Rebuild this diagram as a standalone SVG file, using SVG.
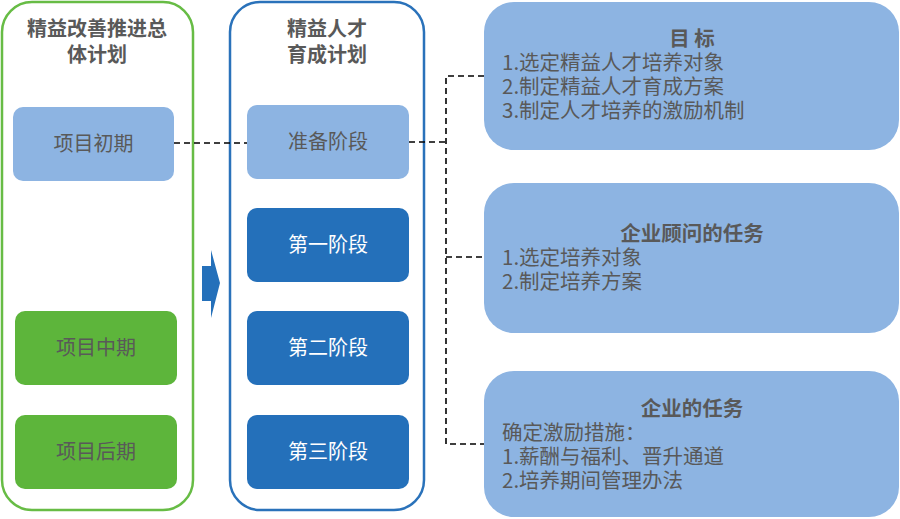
<svg xmlns="http://www.w3.org/2000/svg" width="900" height="519" viewBox="0 0 900 519">
<style>
text{font-family:"Noto Sans CJK SC","Noto Sans",sans-serif;font-size:20px;fill:#595959}
.r{font-size:20.5px}
.b{font-weight:bold}
.w{fill:#ffffff}
.c{text-anchor:middle}
.light{fill:#8DB4E2}
.dark{fill:#2470BA}
.green{fill:#5DB53B}
.dash{fill:none;stroke:#000000;stroke-width:1.6;stroke-dasharray:6 4}
</style>
<rect width="900" height="519" fill="#ffffff"/>
<g id="plan-container">
<rect x="2" y="2" width="191" height="508" rx="30" fill="none" stroke="#67BC45" stroke-width="2.5"/>
<text class="b c" x="97" y="36">精益改善推进总</text>
<text class="b c" x="97" y="62">体计划</text>
</g>
<g id="talent-container">
<rect x="230" y="2" width="194" height="508" rx="30" fill="none" stroke="#2A72BA" stroke-width="2.5"/>
<text class="b c" x="327" y="36">精益人才</text>
<text class="b c" x="327" y="62">育成计划</text>
</g>
<g id="arrow">
<path d="M202 266H211V250L220 283L211 318V301H202Z" fill="#2470BA"/>
</g>
<g id="early">
<rect class="light" x="13" y="107" width="161" height="74" rx="10"/>
<text class="c" x="93.5" y="151">项目初期</text>
</g>
<g id="mid">
<rect class="green" x="15" y="311" width="162" height="74" rx="10"/>
<text class="c" x="96" y="355">项目中期</text>
</g>
<g id="late">
<rect class="green" x="15" y="415" width="162" height="74" rx="10"/>
<text class="c" x="96" y="459">项目后期</text>
</g>
<g id="prep">
<rect class="light" x="247" y="105" width="162" height="74" rx="10"/>
<text class="c" x="328" y="149">准备阶段</text>
</g>
<g id="stage1">
<rect class="dark" x="247" y="208" width="162" height="74" rx="10"/>
<text class="c w" x="328" y="252">第一阶段</text>
</g>
<g id="stage2">
<rect class="dark" x="247" y="311" width="162" height="74" rx="10"/>
<text class="c w" x="328" y="355">第二阶段</text>
</g>
<g id="stage3">
<rect class="dark" x="247" y="415" width="162" height="74" rx="10"/>
<text class="c w" x="328" y="459">第三阶段</text>
</g>
<g id="goal">
<rect class="light" x="484" y="2" width="415" height="148" rx="30"/>
<text class="b c r" x="692" y="46" xml:space="preserve">目 标</text>
<text class="r" x="502" y="70">1.选定精益人才培养对象</text>
<text class="r" x="502" y="94">2.制定精益人才育成方案</text>
<text class="r" x="502" y="118">3.制定人才培养的激励机制</text>
</g>
<g id="consultant">
<rect class="light" x="484" y="183" width="415" height="150" rx="30"/>
<text class="b c r" x="692" y="241">企业顾问的任务</text>
<text class="r" x="502" y="265">1.选定培养对象</text>
<text class="r" x="502" y="289">2.制定培养方案</text>
</g>
<g id="enterprise">
<rect class="light" x="484" y="371" width="415" height="146" rx="30"/>
<text class="b c r" x="692" y="416">企业的任务</text>
<text class="r" x="502" y="440">确定激励措施：</text>
<text class="r" x="502" y="464">1.薪酬与福利、晋升通道</text>
<text class="r" x="502" y="488">2.培养期间管理办法</text>
</g>
<g id="connectors">
<path class="dash" d="M174 143H247"/>
<path class="dash" d="M409 142H446"/>
<path class="dash" d="M484 76H446V444H484"/>
<path class="dash" d="M446 257H484"/>
</g>
</svg>
